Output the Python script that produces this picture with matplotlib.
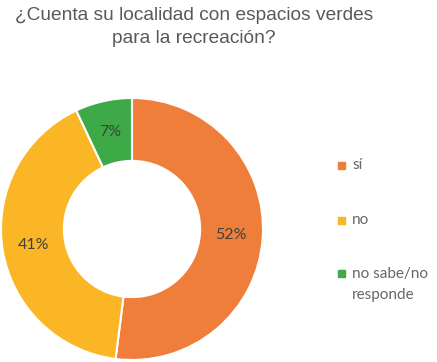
import matplotlib.pyplot as plt

# survey answers
labels = ['sí', 'no', 'no sabe/no\nresponde']
shares = [52, 41, 7]
colors = ['#F07E3B', '#FBB626', '#3DAA47']

fig = plt.figure(figsize=(4.37, 3.62), dpi=100)
fig.patch.set_facecolor('white')

fig.text(194 / 437, 1 - 7 / 362, '¿Cuenta su localidad con espacios verdes\npara la recreación?',
         ha='center', va='top', fontsize=13.8, color='#595959',
         family='Liberation Sans', linespacing=1.45)

# donut, centred around (132, 229) px with r ~131 px
r_px = 131
ax = fig.add_axes([(132 - r_px) / 437, (362 - 229 - r_px) / 362,
                   2 * r_px / 437, 2 * r_px / 362])
wedges, texts, autotexts = ax.pie(
    shares, colors=colors, startangle=90, counterclock=False,
    autopct='%d%%', pctdistance=0.76, radius=1.0,
    wedgeprops=dict(width=0.48, edgecolor='white', linewidth=1.5),
    textprops=dict(color='#404040', fontsize=11.5, family='Lato'))
ax.set_aspect('equal')
ax.set_xlim(-1.0, 1.0)
ax.set_ylim(-1.0, 1.0)

# legend entries placed by hand, one per row
leg_y = [165, 220, 273]
for w, lab, y in zip(wedges, labels, leg_y):
    fig.patches.append(plt.Rectangle(((341 - 3.5) / 437, (362 - y - 3.5) / 362),
                                     7 / 437, 7 / 362, transform=fig.transFigure,
                                     color=w.get_facecolor(), figure=fig))
    fig.text(352 / 437, (362 - y + (6 if '\n' in lab else 0)) / 362, lab, ha='left',
             va='top' if '\n' in lab else 'center',
             fontsize=11, color='#666666', family='Lato', linespacing=1.65,
             transform=fig.transFigure)

fig.savefig('out.png', dpi=100)
